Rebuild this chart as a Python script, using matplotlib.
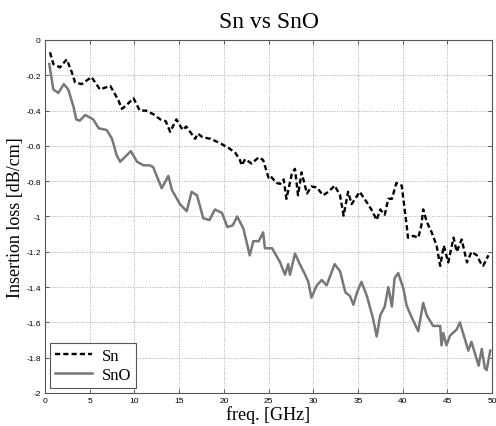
import matplotlib
matplotlib.use("Agg")
import matplotlib.pyplot as plt

# Sn (dashed) readings: freq [GHz], insertion loss [dB/cm]
sn_freq = [0.56, 0.93, 1.68, 2.43, 2.98, 3.36, 4.1, 5.2, 6.15, 7.3, 8.2, 8.6, 9.1,
           9.9, 10.6, 11.3, 12.1, 12.9, 13.5, 14.0, 14.7, 15.4, 15.8, 16.8, 17.1,
           17.6, 18.5, 19.4, 20.5, 21.3, 21.8, 22.0, 22.4, 23.1, 23.9, 24.4, 25.0,
           25.2, 25.9, 26.3, 26.7, 27.0, 27.6, 27.96, 28.3, 28.7, 29.3, 29.8, 30.4,
           31.1, 31.7, 32.4, 33.0, 33.4, 33.9, 34.3, 35.2, 36.0, 36.5, 37.1, 37.5,
           38.0, 38.4, 38.8, 39.3, 39.9, 40.45, 40.6, 41.2, 41.75, 42.1, 42.3, 42.7,
           43.25, 43.8, 44.2, 44.6, 45.1, 45.7, 46.05, 46.6, 47.2, 47.7, 48.3, 48.7,
           49.0, 49.6]
sn_loss = [-0.07, -0.136, -0.155, -0.11, -0.18, -0.24, -0.25, -0.21, -0.28, -0.26,
           -0.34, -0.39, -0.37, -0.33, -0.40, -0.40, -0.42, -0.45, -0.46, -0.52,
           -0.45, -0.51, -0.49, -0.56, -0.53, -0.55, -0.56, -0.58, -0.61, -0.64,
           -0.68, -0.71, -0.675, -0.70, -0.665, -0.68, -0.78, -0.77, -0.81, -0.815,
           -0.79, -0.90, -0.76, -0.73, -0.88, -0.75, -0.87, -0.83, -0.835, -0.88,
           -0.86, -0.825, -0.88, -0.995, -0.86, -0.93, -0.86, -0.92, -0.96, -1.02,
           -0.96, -0.99, -0.90, -0.90, -0.81, -0.825, -1.05, -1.12, -1.11, -1.12,
           -1.05, -0.96, -1.03, -1.09, -1.165, -1.28, -1.165, -1.26, -1.12, -1.20,
           -1.13, -1.26, -1.20, -1.22, -1.26, -1.28, -1.22]

# SnO (solid) readings
sno_freq = [0.48, 0.93, 1.5, 2.1, 2.6, 3.2, 3.5, 3.9, 4.5, 5.4, 6.0, 6.9, 7.5, 8.0,
            8.4, 9.1, 9.6, 10.3, 11.0, 11.7, 12.1, 13.05, 13.8, 14.2, 15.1, 15.85,
            16.4, 17.0, 17.7, 18.4, 19.0, 19.8, 20.4, 21.0, 21.5, 21.8, 22.2, 22.9,
            23.3, 23.9, 24.4, 24.6, 25.4, 26.3, 26.85, 27.2, 27.4, 27.96, 28.5, 29.1,
            29.45, 29.8, 30.4, 30.95, 31.5, 32.4, 33.0, 33.6, 34.1, 34.5, 34.9, 35.4,
            36.0, 36.7, 37.1, 37.5, 38.0, 38.4, 38.8, 39.1, 39.5, 40.1, 40.45, 41.0,
            41.75, 42.3, 42.7, 43.4, 44.2, 44.35, 44.55, 44.9, 45.3, 46.05, 46.4,
            47.35, 47.7, 48.5, 48.85, 49.2, 49.4, 49.8]
sno_loss = [-0.136, -0.28, -0.30, -0.25, -0.28, -0.38, -0.45, -0.457, -0.425, -0.45,
            -0.50, -0.51, -0.56, -0.65, -0.69, -0.655, -0.63, -0.69, -0.71, -0.71,
            -0.72, -0.84, -0.77, -0.85, -0.93, -0.97, -0.86, -0.88, -1.01, -1.02,
            -0.96, -0.98, -1.06, -1.05, -1.00, -1.03, -1.07, -1.22, -1.14, -1.14,
            -1.09, -1.18, -1.18, -1.26, -1.33, -1.27, -1.33, -1.21, -1.27, -1.33,
            -1.37, -1.46, -1.39, -1.36, -1.39, -1.27, -1.31, -1.43, -1.45, -1.50,
            -1.43, -1.37, -1.45, -1.58, -1.68, -1.56, -1.51, -1.40, -1.51, -1.35,
            -1.32, -1.41, -1.505, -1.57, -1.65, -1.49, -1.56, -1.62, -1.62, -1.73,
            -1.66, -1.73, -1.675, -1.64, -1.60, -1.76, -1.71, -1.845, -1.75, -1.86,
            -1.87, -1.76]

xticks = list(range(0, 51, 5))
yticks = [0, -0.2, -0.4, -0.6, -0.8, -1, -1.2, -1.4, -1.6, -1.8, -2]
ytick_labels = ["0", "-0.2", "-0.4", "-0.6", "-0.8", "-1", "-1.2", "-1.4", "-1.6", "-1.8", "-2"]

serif = ["Liberation Serif", "DejaVu Serif"]

fig = plt.figure(figsize=(4.96, 4.27), dpi=100)
ax = fig.add_axes([0.0907, 0.0773, 0.9013, 0.8267])

ax.plot(sn_freq, sn_loss, color="black", linestyle=(0, (2.2, 1.3)), linewidth=1.7, label="Sn")
ax.plot(sno_freq, sno_loss, color="#777777", linestyle="-", linewidth=1.8, label="SnO")

ax.set_xlim(0, 50)
ax.set_ylim(-2, 0)
ax.set_xticks(xticks)
ax.set_yticks(yticks)
ax.set_yticklabels(ytick_labels)
ax.grid(True, linestyle=(0, (1, 1.5)), color="#aaaaaa", linewidth=0.7)
ax.tick_params(direction="in", top=True, right=True, length=3, width=0.6,
               color="#444444", labelsize=6, pad=3)
for lab in ax.get_xticklabels() + ax.get_yticklabels():
    lab.set_family("Liberation Sans")
for s in ax.spines.values():
    s.set_color("#555555")
    s.set_linewidth(0.8)

ax.set_title("Sn vs SnO", fontsize=17, family=serif, pad=9)
ax.set_xlabel("freq. [GHz]", fontsize=13, family=serif, labelpad=1)
ax.set_ylabel("Insertion loss [dB/cm]", fontsize=13, family=serif, labelpad=2)

leg = ax.legend(loc="lower left", prop={"family": serif, "size": 12}, fancybox=False,
                framealpha=1, edgecolor="#555555", handlelength=2.2, borderpad=0.3,
                labelspacing=0.2, handletextpad=0.6, borderaxespad=0.3)
leg.get_frame().set_linewidth(0.8)

fig.savefig("out.png", dpi=100)
